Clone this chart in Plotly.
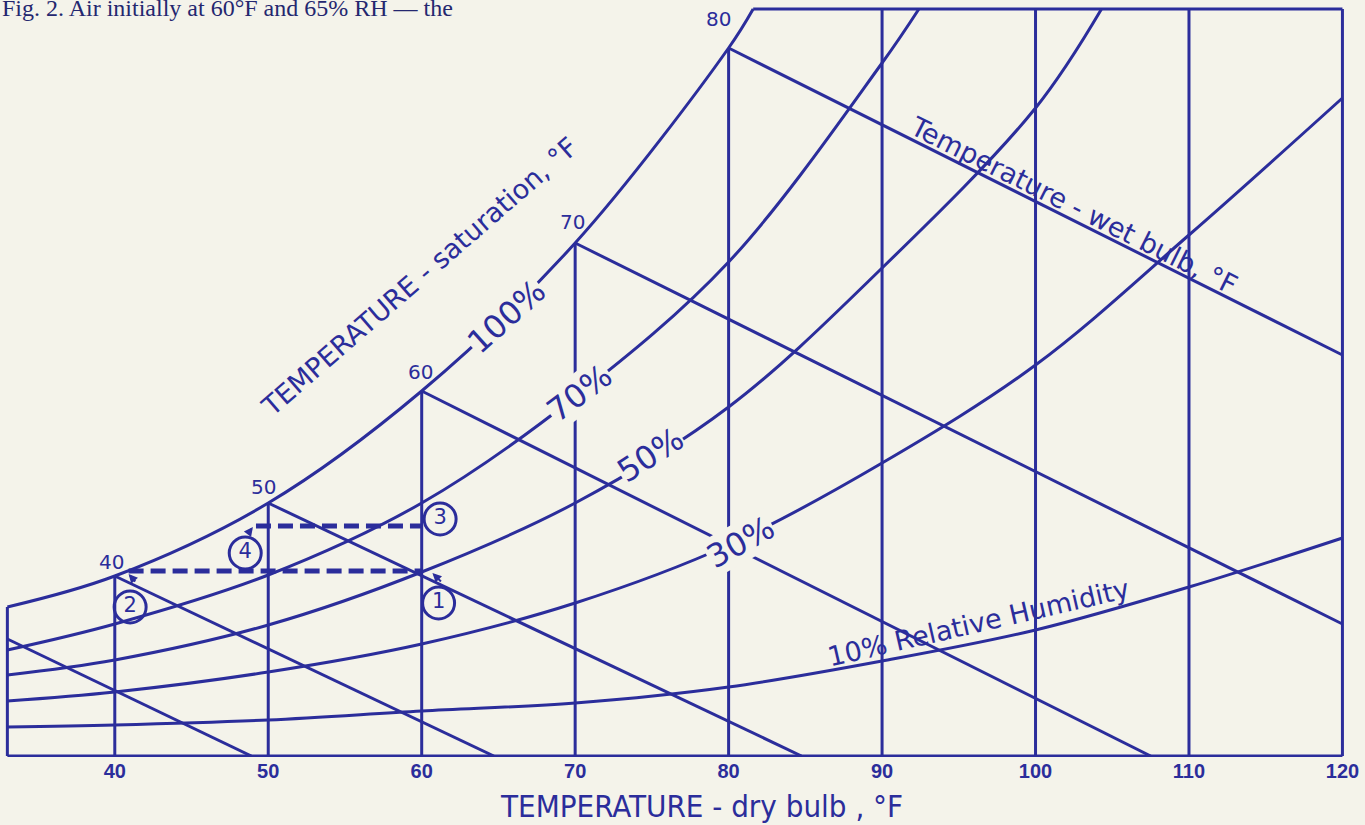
import plotly.graph_objects as go

# ---------------- data ----------------
# x: dry-bulb temperature (°F); y: chart height units (humidity-ratio scale, 0 = bottom line)
dry_bulb_ticks = [40, 50, 60, 70, 80, 90, 100, 110, 120]
tick_labels = ["40", "50", "60", "70", "80", "90", "100", "110", "120"]
dry_bulb_top_h = [180, 253, 365, 513, 708, 747, 747, 747, 747]

frame_left_T = 33.0
frame_right_T = 120
frame_top_h = 747

# saturation (100 %) curve
sat_T = [33.0, 40, 50, 60, 70, 80, 81.6]
sat_h = [149, 180, 253, 365, 513, 708, 747]
sat_point_labels = ["40", "50", "60", "70", "80"]

# relative-humidity curves
rh70_T = [33.0, 40, 50, 60, 70, 80, 90, 92.4]
rh70_h = [106, 132, 181, 253, 359, 494, 693, 747]
rh50_T = [33.0, 40, 50, 60, 70, 80, 90, 100, 104.3]
rh50_h = [81, 96, 131, 184, 253, 349, 488, 648, 747]
rh30_T = [33.0, 40, 50, 60, 70, 80, 90, 100, 110, 120]
rh30_h = [55, 64, 84, 112, 153, 211, 293, 391, 521, 658]
rh10_T = [33.0, 40, 50, 60, 70, 80, 90, 100, 110, 120]
rh10_h = [29, 31, 36, 45, 53, 69, 95, 126, 169, 218]

# wet-bulb lines (start on saturation / left frame, end on bottom / right frame)
wb_start_T = [33.0, 40, 50, 60, 70, 80]
wb_start_h = [117, 180, 253, 365, 513, 708]
wb_end_T = [48.9, 64.7, 84.75, 107.5, 120, 120]
wb_end_h = [0, 0, 0, 0, 132, 401]

# process (dashed) lines
proc_low_T = [40.9, 60]
proc_low_h = [185, 185]
proc_up_T = [49.2, 60]
proc_up_h = [230, 230]

# state markers
state_labels = ["1", "2", "3", "4"]
state_T = [61.1, 41.0, 61.2, 48.5]
state_h = [153, 149, 237, 203]

# small arrow tips
arrow_T = [40.9, 60.7, 49.0]
arrow_h = [182, 183, 229]

# rotated chart labels
label_texts = ["TEMPERATURE - saturation, °F", "100%", "70%", "50%", "30%",
               "10% Relative Humidity", "Temperature - wet bulb, °F"]
label_T = [59.85, 65.5, 70.3, 74.9, 80.8, 96.3, 102.5]
label_h = [480, 439, 363, 301, 214, 134, 551]
label_angle = [-41, -42, -37, -33, -29, -13, 26.7]

caption = "Fig. 2. Air initially at 60°F and 65% RH — the"
x_title = "TEMPERATURE - dry bulb , °F"

# ---------------- style ----------------
BLUE = "#2b2d9b"
BG = "#f4f3ea"
FONT = "DejaVu Sans"
LW = 3

fig = go.Figure()


def seg_trace(xs, ys, width=LW, dash=None, shape="linear"):
    fig.add_trace(go.Scatter(x=xs, y=ys, mode="lines",
                             line=dict(color=BLUE, width=width, dash=dash, shape=shape),
                             hoverinfo="skip", showlegend=False))


# frame: left, bottom, top
seg_trace([frame_left_T, frame_left_T], [0, sat_h[0]])
seg_trace([frame_left_T, frame_right_T], [0, 0])
seg_trace([sat_T[-1], frame_right_T], [frame_top_h, frame_top_h])

# dry-bulb vertical lines
vx, vy = [], []
for t, top in zip(dry_bulb_ticks, dry_bulb_top_h):
    vx += [t, t, None]
    vy += [0, top, None]
seg_trace(vx, vy)

# wet-bulb lines
wx, wy = [], []
for a, b, c, d in zip(wb_start_T, wb_start_h, wb_end_T, wb_end_h):
    wx += [a, c, None]
    wy += [b, d, None]
seg_trace(wx, wy)

# saturation and RH curves
for xs, ys in [(sat_T, sat_h), (rh70_T, rh70_h), (rh50_T, rh50_h),
               (rh30_T, rh30_h), (rh10_T, rh10_h)]:
    seg_trace(xs, ys, shape="spline")

# process dashed lines
seg_trace(proc_low_T, proc_low_h, width=5, dash="15px,7px")
seg_trace(proc_up_T, proc_up_h, width=5, dash="15px,7px")

# state circles
fig.add_trace(go.Scatter(
    x=state_T, y=state_h, mode="markers+text", text=state_labels,
    textposition="middle center",
    textfont=dict(family=FONT, size=21, color=BLUE),
    marker=dict(symbol="circle-open", size=32, color=BLUE, line=dict(width=3, color=BLUE)),
    cliponaxis=False, hoverinfo="skip", showlegend=False))

annotations = []

# saturation point labels
sat_shift = [(-3, 14), (-5, 16), (-1, 19), (-3, 21), (-10, 29)]
for lab, t, h, (dx, dy) in zip(sat_point_labels, sat_T[1:6], sat_h[1:6], sat_shift):
    annotations.append(dict(x=t, y=h, xref="x", yref="y", text=lab, showarrow=False,
                            xshift=dx, yshift=dy,
                            font=dict(family=FONT, size=20, color=BLUE)))

# rotated labels
for i, (txt, t, h, ang) in enumerate(zip(label_texts, label_T, label_h, label_angle)):
    is_pct = txt.endswith("%") and len(txt) <= 4
    annotations.append(dict(
        x=t, y=h, xref="x", yref="y", text=txt, showarrow=False, textangle=ang,
        font=dict(family=FONT, size=32 if is_pct else 27, color=BLUE),
        bgcolor=BG if is_pct else None, borderpad=0))

# small arrowheads
arrow_off = [(8, 9), (10, 10), (-6, 8)]
for t, h, (ax, ay) in zip(arrow_T, arrow_h, arrow_off):
    annotations.append(dict(x=t, y=h, xref="x", yref="y", text="", showarrow=True,
                            ax=ax, ay=ay, arrowhead=2, arrowsize=0.9, arrowwidth=2,
                            arrowcolor=BLUE, standoff=0))

# caption (partly cut at top, as in the scan)
annotations.append(dict(x=0, y=1, xref="paper", yref="paper", xanchor="left", yanchor="middle",
                        xshift=0, yshift=-8, text=caption, showarrow=False,
                        font=dict(family="Liberation Serif, Times New Roman, serif", size=24,
                                  color="#24276f")))

# x-axis title
annotations.append(dict(x=702 / 1365, y=-49 / 757, xref="paper", yref="paper",
                        xanchor="center", yanchor="middle", text=x_title, showarrow=False,
                        font=dict(family="Liberation Sans Narrow, DejaVu Sans Condensed, Arial Narrow, sans-serif",
                                  size=31, color=BLUE)))

fig.update_layout(
    width=1365, height=825,
    margin=dict(l=0, r=0, t=0, b=68),
    paper_bgcolor=BG, plot_bgcolor=BG,
    showlegend=False,
    annotations=annotations,
    xaxis=dict(range=[32.52, 121.47], showgrid=False, zeroline=False, showline=False,
               tickvals=dry_bulb_ticks, ticktext=["<b>%s</b>" % s for s in tick_labels],
               ticks="", tickfont=dict(family="Liberation Sans, Arial, sans-serif", size=20, color=BLUE),
               fixedrange=True),
    yaxis=dict(range=[-1, 756], showgrid=False, zeroline=False, showline=False,
               showticklabels=False, ticks="", fixedrange=True),
)

page_css = ("document.body.style.margin='0px';"
            "document.body.style.padding='0px';"
            "document.body.style.overflow='hidden';"
            "document.body.style.backgroundColor='" + BG + "';")

fig.write_html("out.html", post_script=page_css, config={"displayModeBar": False})
